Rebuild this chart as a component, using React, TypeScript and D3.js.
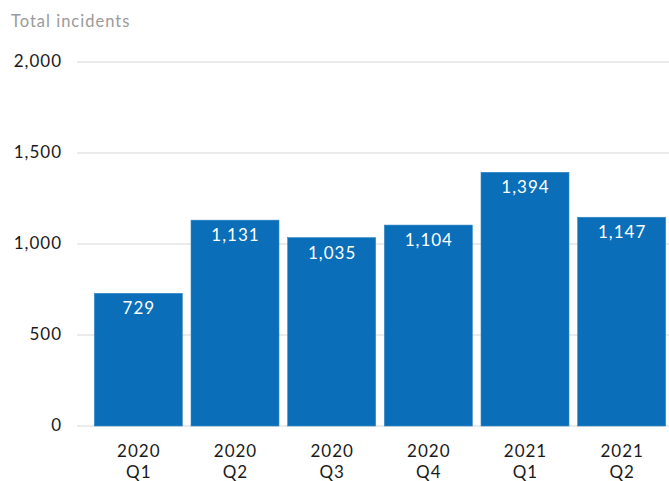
import React from "react";
import * as d3 from "d3";

const years = ["2020", "2020", "2020", "2020", "2021", "2021"];
const quarters = ["Q1", "Q2", "Q3", "Q4", "Q1", "Q2"];
const incidents = [729, 1131, 1035, 1104, 1394, 1147];
const yTicks = [0, 500, 1000, 1500, 2000];

const W = 669;
const H = 481;
const FONT = "Lato, 'Open Sans', sans-serif";
const LS = 1;

export default function App() {
  const keys = incidents.map((_, i) => `${years[i]} ${quarters[i]}`);
  const x = d3.scaleBand<string>().domain(keys).range([90, 670]).paddingInner(0.09).paddingOuter(0.045);
  const y = d3.scaleLinear().domain([0, 2000]).range([426, 62]);
  const fmt = d3.format(",");

  return (
    <div style={{ position: "absolute", left: 0, top: 0 }}>
      <svg width={W} height={H} style={{ display: "block", fontFamily: FONT, letterSpacing: `${LS}px` }}>
        <text x={11} y={27} fontSize={16.5} fill="#9a9a9a">Total incidents</text>
        {yTicks.map((t) => (
          <g key={t}>
            <line x1={77} x2={W} y1={y(t)} y2={y(t)} stroke="#d6d6d6" strokeWidth={1} />
            <text x={61 + LS} y={y(t)} dy="0.32em" textAnchor="end" fontSize={17} fill="#1a1a1a">
              {fmt(t)}
            </text>
          </g>
        ))}
        {incidents.map((v, i) => {
          const k = keys[i];
          const x0 = x(k)!;
          const bw = x.bandwidth();
          const cx = x0 + bw / 2 + LS / 2;
          return (
            <g key={k}>
              <rect x={x0} y={y(v)} width={bw} height={y(0) - y(v)} fill="#0a6fb8" stroke="#2f86c6" strokeWidth={0.6} />
              <text x={cx} y={y(v) + 21} textAnchor="middle" fontSize={17} fill="#ffffff">
                {fmt(v)}
              </text>
              <text x={cx} y={457} textAnchor="middle" fontSize={17} fill="#1a1a1a">
                {years[i]}
              </text>
              <text x={cx} y={478} textAnchor="middle" fontSize={17} fill="#1a1a1a">
                {quarters[i]}
              </text>
            </g>
          );
        })}
      </svg>
    </div>
  );
}
